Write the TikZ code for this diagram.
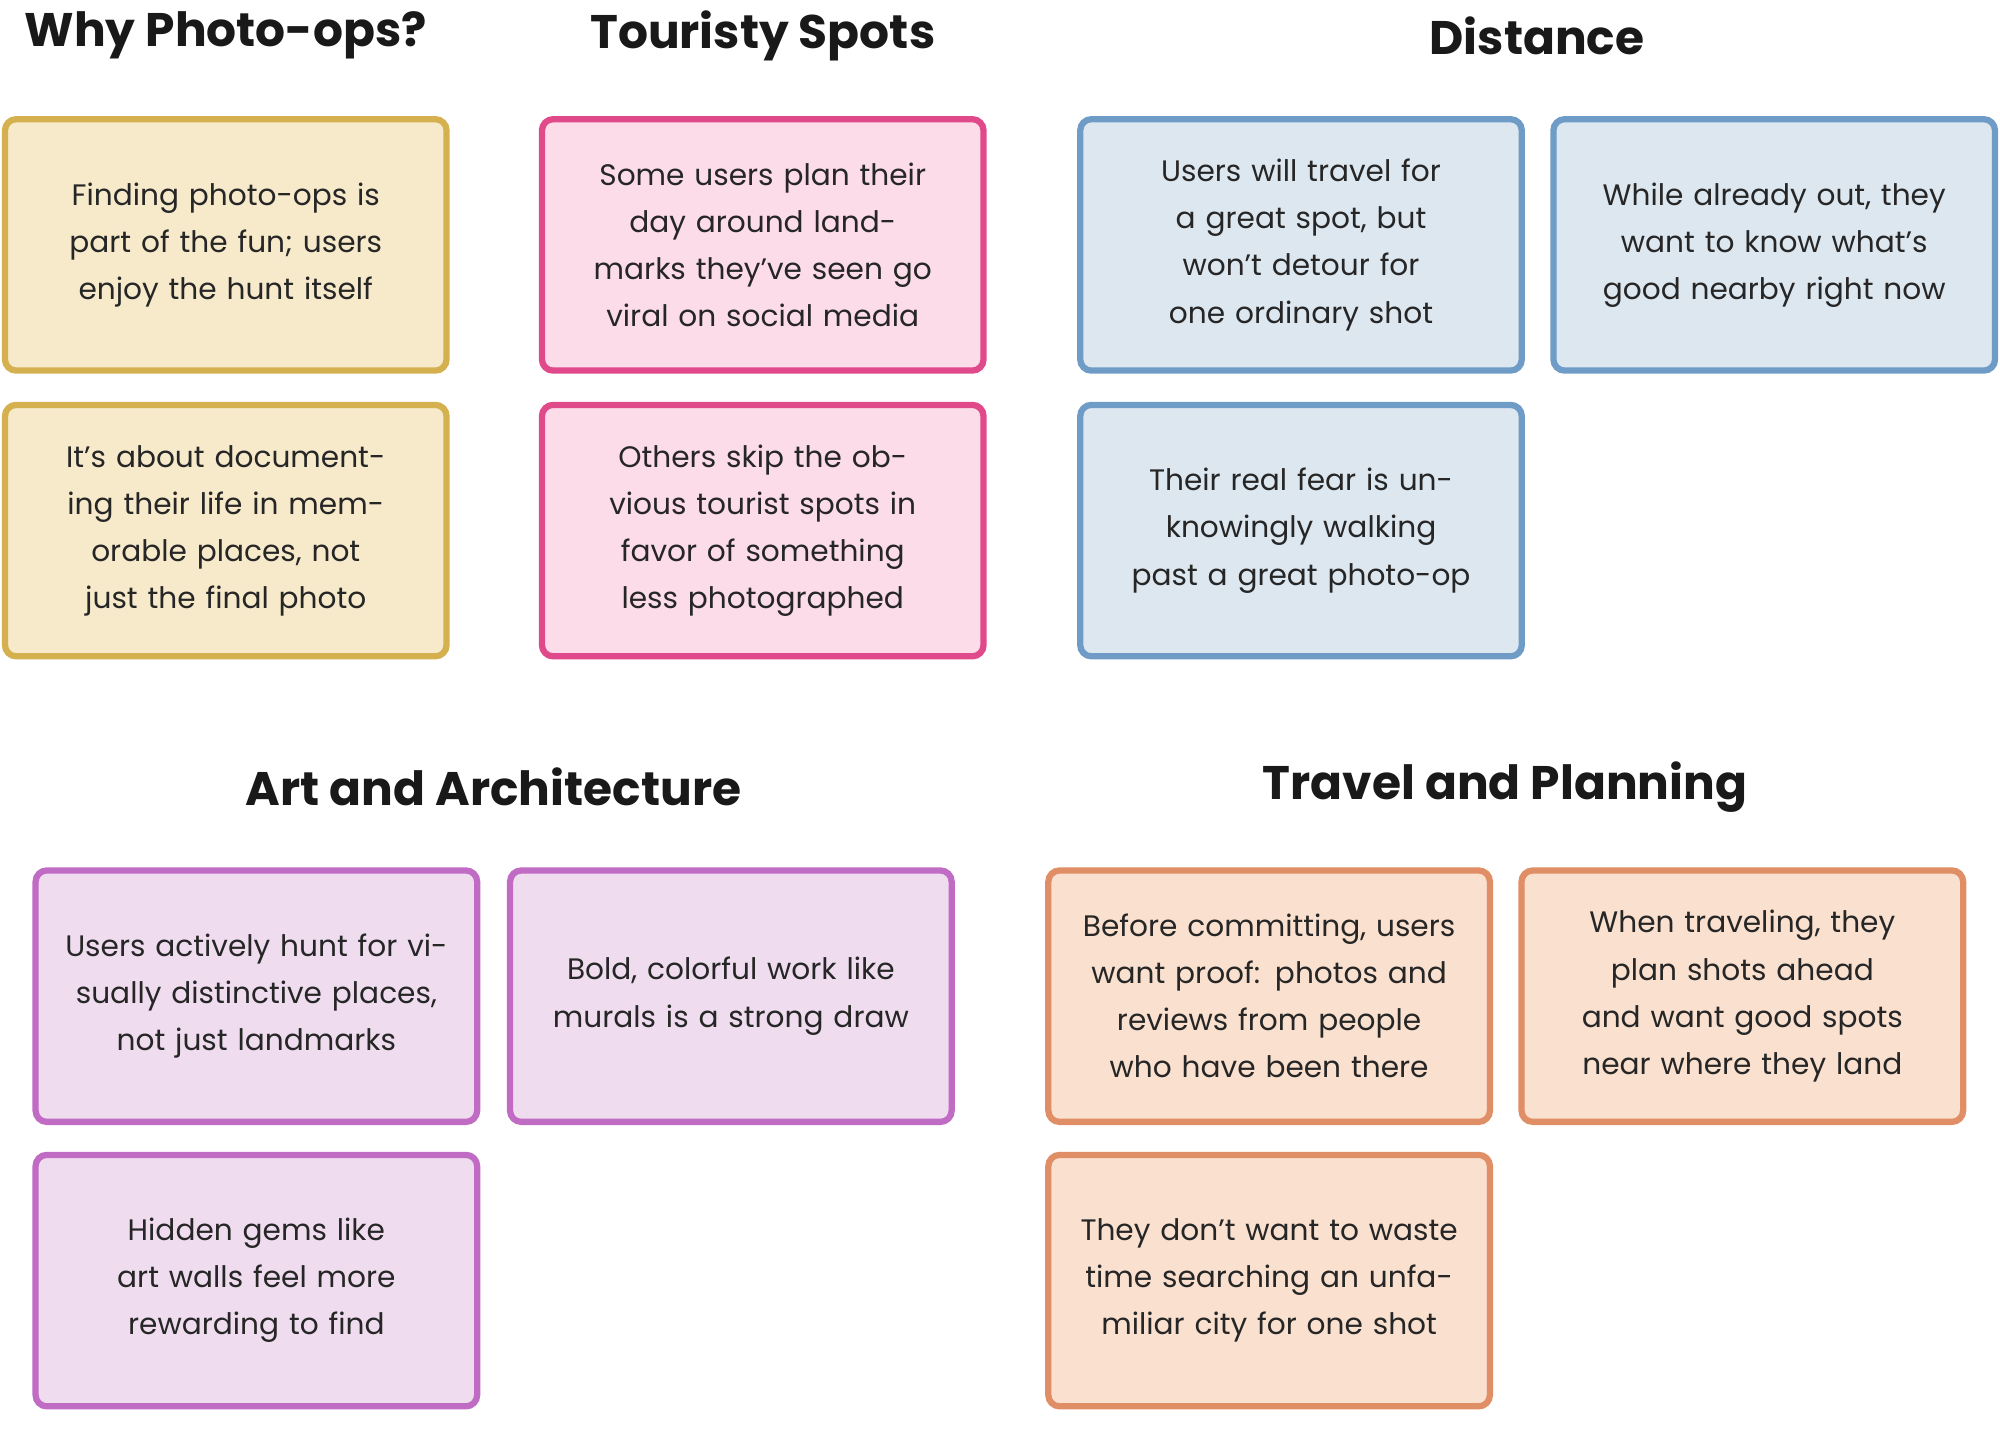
\documentclass[tikz,border=0pt]{standalone}
\usepackage{fontspec}
\setmainfont{Poppins}
\usetikzlibrary{positioning}
\definecolor{ylwline}{HTML}{D4B04F}\definecolor{ylwfill}{HTML}{F7EACB}
\definecolor{pnkline}{HTML}{E0498A}\definecolor{pnkfill}{HTML}{FBDCE8}
\definecolor{bluline}{HTML}{6E9CC7}\definecolor{blufill}{HTML}{DDE7F0}
\definecolor{purline}{HTML}{C06BC4}\definecolor{purfill}{HTML}{EFDDEF}
\definecolor{orgline}{HTML}{E08E65}\definecolor{orgfill}{HTML}{F9E0CF}
\tikzset{
  note/.style={draw=#1line, fill=#1fill, line width=1.4pt, rounded corners=2.5pt,
    minimum width=3.46cm, minimum height=1.97cm, text width=3.0cm, align=center,
    font=\fontsize{6.6}{10.5}\selectfont, text=black!85},
  heading/.style={font=\fontsize{10.5}{12}\selectfont\bfseries, text=black!90}
}
\begin{document}
\begin{tikzpicture}[x=0.01cm,y=-0.01cm]
            \useasboundingbox (0,0) rectangle (1568,1127);

            % Why Photo-ops?
            \node[heading] (tphoto) at (177,28) {Why Photo-ops?};
            \node[note=ylw] (photoa) at (177,192) {Finding photo-ops is part of the fun; users enjoy the hunt itself};
            \node[note=ylw] (photob) at (177,416) {It's about documenting their life in memorable places, not just the final photo};

            % Touristy Spots
            \node[heading] (ttour) at (598,28) {Touristy Spots};
            \node[note=pnk] (toura) at (598,192) {Some users plan their day around landmarks they've seen go viral on social media};
            \node[note=pnk] (tourb) at (598,416) {Others skip the obvious tourist spots in favor of something less photographed};

            % Distance
            \node[heading] (tdist) at (1205,28) {Distance};
            \node[note=blu] (dista) at (1020,192) {Users will travel for a great spot, but won't detour for one ordinary shot};
            \node[note=blu] (distb) at (1391,192) {While already out, they want to know what's good nearby right now};
            \node[note=blu] (distc) at (1020,416) {Their real fear is unknowingly walking past a great photo-op};

            % Art and Architecture
            \node[heading] (tart) at (387,617) {Art and Architecture};
            \node[note=pur] (arta) at (201,781) {Users actively hunt for visually distinctive places, not just landmarks};
            \node[note=pur] (artb) at (573,781) {Bold, colorful work like murals is a strong draw};
            \node[note=pur] (artc) at (201,1004) {Hidden gems like art walls feel more rewarding to find};

            % Travel and Planning
            \node[heading] (ttrav) at (1180,617) {Travel and Planning};
            \node[note=org] (trava) at (995,781) {Before committing, users want proof: photos and reviews from people who have been there};
            \node[note=org] (travb) at (1366,781) {When traveling, they plan shots ahead and want good spots near where they land};
            \node[note=org] (travc) at (995,1004) {They don't want to waste time searching an unfamiliar city for one shot};

\end{tikzpicture}
\end{document}
